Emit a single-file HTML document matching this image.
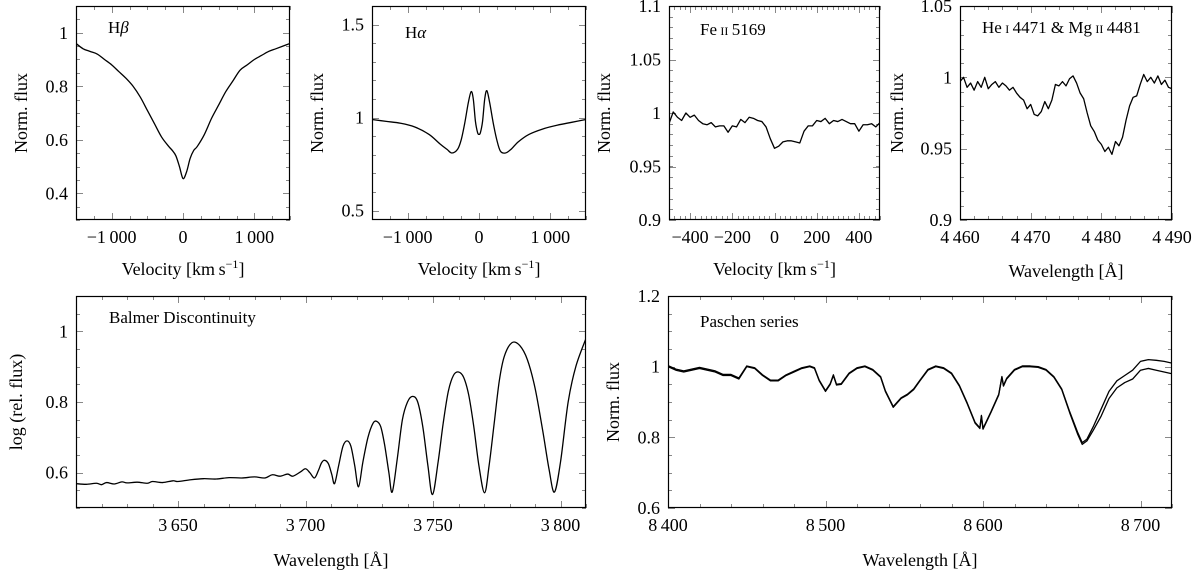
<!DOCTYPE html>
<html><head><meta charset="utf-8">
<style>
html,body{margin:0;padding:0;background:#fff;}
svg{display:block;font-family:"Liberation Serif",serif;}
</style></head>
<body>
<svg id="fig" width="1200" height="573" viewBox="0 0 1200 573" xmlns="http://www.w3.org/2000/svg"></svg>
<script>
// ---------- DATA ----------
const hbVel = [-1500,-1400,-1300,-1200,-1100,-1000,-900,-800,-700,-600,-500,-400,-300,-200,-150,-100,-50,0,50,100,150,200,300,400,500,600,700,800,900,1000,1100,1200,1300,1400,1500];
const hbFlux = [0.96,0.94,0.93,0.92,0.90,0.88,0.855,0.83,0.80,0.76,0.71,0.66,0.61,0.575,0.56,0.54,0.50,0.455,0.48,0.53,0.56,0.575,0.62,0.68,0.73,0.78,0.82,0.86,0.88,0.90,0.915,0.93,0.94,0.95,0.96];

const haVel = [-1500,-1300,-1100,-900,-700,-550,-450,-380,-300,-250,-200,-150,-110,-80,-50,-20,0,20,50,80,110,150,200,250,300,370,450,550,700,900,1100,1300,1500];
const haFlux = [0.99,0.98,0.97,0.95,0.91,0.86,0.83,0.81,0.83,0.88,0.97,1.08,1.14,1.10,0.98,0.92,0.91,0.92,0.98,1.10,1.145,1.08,0.97,0.88,0.82,0.81,0.83,0.87,0.91,0.94,0.96,0.975,0.99];

const feVel = [-500,-480,-460,-440,-420,-400,-380,-360,-340,-320,-300,-280,-260,-240,-220,-200,-180,-160,-140,-120,-100,-80,-60,-40,-20,0,20,40,60,80,100,120,140,160,180,200,220,240,260,280,300,320,340,360,380,400,420,440,460,480,500];
const feFlux = [0.99,1.001,0.996,0.993,1.0,0.996,0.998,0.993,0.99,0.989,0.991,0.987,0.988,0.988,0.982,0.988,0.987,0.994,0.991,0.996,0.995,0.993,0.992,0.987,0.976,0.967,0.969,0.973,0.974,0.974,0.973,0.972,0.983,0.988,0.988,0.993,0.992,0.995,0.990,0.993,0.992,0.994,0.992,0.990,0.990,0.983,0.989,0.989,0.990,0.987,0.991];

const heWave = [4460,4460.5,4461,4461.5,4462,4462.5,4463,4463.5,4464,4464.5,4465,4465.5,4466,4466.5,4467,4467.5,4468,4468.5,4469,4469.5,4470,4470.5,4471,4471.5,4472,4472.5,4473,4473.5,4474,4474.5,4475,4475.5,4476,4476.5,4477,4477.5,4478,4478.5,4479,4479.5,4480,4480.5,4481,4481.5,4482,4482.5,4483,4483.5,4484,4484.5,4485,4485.5,4486,4486.5,4487,4487.5,4488,4488.5,4489,4489.5,4490];
const heFlux = [0.997,1.0,0.993,0.996,0.991,0.997,0.993,1.0,0.992,0.995,0.997,0.993,0.996,0.994,0.991,0.993,0.989,0.986,0.984,0.978,0.981,0.974,0.973,0.976,0.983,0.978,0.984,0.995,0.994,0.997,0.994,0.999,1.001,0.996,0.989,0.985,0.975,0.966,0.962,0.956,0.953,0.948,0.951,0.946,0.955,0.952,0.958,0.970,0.980,0.986,0.987,0.995,1.002,0.997,1.0,0.996,1.001,0.995,0.998,0.993,0.992];

const bdWave = [3610,3614,3618,3620,3622,3625,3628,3630,3634,3638,3640,3644,3648,3650,3655,3660,3665,3670,3675,3680,3684,3687,3690,3693,3695,3698,3700,3701.7,3703.5,3705,3706.3,3707.5,3709,3710.3,3711.4,3713,3714.7,3716.3,3717.8,3719.3,3720.8,3722.5,3724.5,3726.5,3728,3729.5,3731,3732.7,3734,3736,3738,3740,3742,3744,3746,3748,3749.8,3752,3754,3756,3758,3760,3762,3764,3766,3768,3770.2,3772,3774,3776,3778,3781,3784,3787,3790,3793,3795.5,3797.6,3800,3803,3806,3810];
const bdFlux = [0.569,0.567,0.570,0.566,0.572,0.568,0.574,0.571,0.573,0.570,0.575,0.572,0.577,0.575,0.580,0.583,0.582,0.586,0.585,0.588,0.585,0.594,0.590,0.596,0.590,0.602,0.611,0.600,0.585,0.605,0.628,0.635,0.625,0.595,0.569,0.62,0.675,0.69,0.675,0.62,0.56,0.63,0.70,0.74,0.745,0.73,0.68,0.60,0.545,0.64,0.75,0.80,0.816,0.80,0.73,0.62,0.538,0.63,0.74,0.83,0.875,0.885,0.87,0.82,0.73,0.62,0.543,0.62,0.74,0.86,0.93,0.968,0.96,0.92,0.84,0.72,0.61,0.545,0.63,0.80,0.90,0.98];

const paWave = [8400,8405,8410,8415,8420,8425,8430,8435,8440,8445,8450,8455,8460,8465,8470,8475,8480,8485,8490,8493,8496,8500,8503,8505,8507,8510,8515,8520,8525,8530,8535,8538,8543,8548,8552,8556,8560,8565,8570,8575,8580,8585,8590,8595,8598,8599,8600,8605,8610,8612,8613,8615,8620,8625,8630,8635,8640,8645,8650,8655,8660,8663,8666,8670,8675,8680,8685,8690,8695,8700,8705,8710,8715,8720];
const paFluxA = [1.0,0.99,0.985,0.99,0.995,0.99,0.985,0.975,0.975,0.965,1.0,0.995,0.975,0.96,0.96,0.975,0.985,0.995,1.0,0.995,0.96,0.93,0.95,0.975,0.948,0.95,0.98,0.995,1.0,0.99,0.97,0.93,0.885,0.91,0.92,0.935,0.96,0.99,1.0,0.995,0.98,0.945,0.895,0.84,0.825,0.86,0.823,0.87,0.92,0.97,0.945,0.965,0.99,1.0,1.0,0.998,0.99,0.97,0.935,0.87,0.81,0.78,0.79,0.82,0.86,0.91,0.94,0.955,0.965,0.99,0.995,0.99,0.985,0.98];
const paFluxB = [1.003,0.993,0.988,0.993,0.998,0.993,0.988,0.978,0.978,0.968,1.002,0.997,0.977,0.962,0.962,0.977,0.987,0.997,1.002,0.997,0.962,0.932,0.952,0.977,0.95,0.952,0.982,0.997,1.002,0.992,0.972,0.932,0.887,0.912,0.922,0.937,0.962,0.992,1.002,0.997,0.982,0.947,0.897,0.842,0.827,0.862,0.825,0.872,0.922,0.972,0.947,0.967,0.992,1.002,1.002,1.0,0.992,0.972,0.937,0.873,0.815,0.785,0.795,0.83,0.88,0.93,0.96,0.975,0.99,1.015,1.02,1.018,1.015,1.01];

const tkVel1500 = [-1000,0,1000];
const tkHbY = [0.4,0.6,0.8,1];
const tkHaY = [0.5,1,1.5];
const tkFeX = [-400,-200,0,200,400];
const tkFeY = [0.9,0.95,1,1.05,1.1];
const tkHeX = [4460,4470,4480,4490];
const tkHeY = [0.9,0.95,1,1.05];
const tkBdX = [3650,3700,3750,3800];
const tkBdY = [0.6,0.8,1];
const tkPaX = [8400,8500,8600,8700];
const tkPaY = [0.6,0.8,1,1.2];

// ---------- RENDER ----------
const NS = "http://www.w3.org/2000/svg";
const svg = document.getElementById("fig");
function el(tag, attrs, parent){
  const e = document.createElementNS(NS, tag);
  for (const k in attrs) e.setAttribute(k, attrs[k]);
  (parent||svg).appendChild(e);
  return e;
}
function fmt(v, dec){
  let s = Math.abs(v).toFixed(dec);
  let [ip, fp] = s.split(".");
  if (ip.length >= 4) ip = ip.slice(0, ip.length-3) + "\u2009" + ip.slice(ip.length-3);
  s = fp ? ip + "." + fp : ip;
  return (v < 0 ? "\u2212" : "") + s;
}
function lbl(v){
  let d = 0; const s = String(v); if (s.includes(".")) d = s.split(".")[1].length;
  return fmt(v, d);
}
function smoothPath(pts){
  let d = "M" + pts[0][0].toFixed(2) + "," + pts[0][1].toFixed(2);
  for (let i = 0; i < pts.length-1; i++){
    const p0 = pts[Math.max(0,i-1)], p1 = pts[i], p2 = pts[i+1], p3 = pts[Math.min(pts.length-1,i+2)];
    const c1x = p1[0] + (p2[0]-p0[0])/6, c1y = p1[1] + (p2[1]-p0[1])/6;
    const c2x = p2[0] - (p3[0]-p1[0])/6, c2y = p2[1] - (p3[1]-p1[1])/6;
    d += "C" + [c1x,c1y,c2x,c2y,p2[0],p2[1]].map(n=>n.toFixed(2)).join(",");
  }
  return d;
}

function panel(p){
  const g = el("g", {});
  
  
  const sx = v => p.l + (v - p.x0)/(p.x1 - p.x0)*(p.r - p.l);
  const sy = v => p.b - (v - p.y0)/(p.y1 - p.y0)*(p.b - p.t);
  const tg = el("g", {stroke:"#888","stroke-width":1}, g);
  
  
  for (let v = Math.ceil(p.x0/p.xm - 1e-9)*p.xm; v <= p.x1 + 1e-9; v += p.xm){
    const x = Math.round(sx(v)) + 0.5;
    el("line",{x1:x,x2:x,y1:p.b,y2:p.b-4},tg); el("line",{x1:x,x2:x,y1:p.t,y2:p.t+4},tg);
  }
  for (let v = Math.ceil(p.y0/p.ym - 1e-9)*p.ym; v <= p.y1 + 1e-9; v += p.ym){
    const y = Math.round(sy(v)) + 0.5;
    el("line",{x1:p.l,x2:p.l+4,y1:y,y2:y},tg); el("line",{x1:p.r,x2:p.r-4,y1:y,y2:y},tg);
  }
  p.xt.forEach(v=>{
    const x = Math.round(sx(v)) + 0.5;
    el("line",{x1:x,x2:x,y1:p.b,y2:p.b-7},tg); el("line",{x1:x,x2:x,y1:p.t,y2:p.t+7},tg);
    const t = el("text",{x:sx(v),y:p.b+23,"text-anchor":"middle","font-size":18,fill:"#000",stroke:"none"},g);
    
    
    t.textContent = lbl(v);
  });
  p.yt.forEach(v=>{
    const y = Math.round(sy(v)) + 0.5;
    el("line",{x1:p.l,x2:p.l+7,y1:y,y2:y},tg); el("line",{x1:p.r,x2:p.r-7,y1:y,y2:y},tg);
    const t = el("text",{x:p.l-8,y:sy(v)+6,"text-anchor":"end","font-size":18,fill:"#000",stroke:"none"},g);
    
    
    t.textContent = lbl(v);
  });
  const cp = el("clipPath",{id:"c_"+p.name},g);
  el("rect",{x:p.l,y:p.t,width:p.r-p.l,height:p.b-p.t},cp);
  p.series.forEach((s,i)=>{
    const pts = s[0].map((xv,k)=>[sx(xv), sy(s[1][k])]);
    let d;
    if (p.smooth) d = smoothPath(pts);
    else d = pts.map((q,k)=>(k?"L":"M")+q[0].toFixed(2)+","+q[1].toFixed(2)).join("");
    const path = el("path",{d:d,fill:"none",stroke:"#000","stroke-width":1.3,"stroke-linejoin":"round","clip-path":"url(#c_"+p.name+")"},g);
    
    
  });
  const fr = el("rect",{x:p.l+0.5,y:p.t+0.5,width:p.r-p.l-1,height:p.b-p.t-1,fill:"none",stroke:"#000","stroke-width":1.2},g);
  
  
  const xt = el("text",{x:(p.l+p.r)/2,y:p.xty,"text-anchor":"middle","font-size":18},g);
  
  
  xt.innerHTML = p.xtitle;
  const yt = el("text",{x:0,y:0,"text-anchor":"middle","font-size":18,transform:`translate(${p.ytx},${(p.t+p.b)/2}) rotate(-90)`},g);
  
  
  yt.textContent = p.ytitle;
  const pl = el("text",{x:p.lx,y:p.ly,"font-size":17},g);
  
  
  pl.innerHTML = p.label;
}

const VEL = 'Velocity [km\u2009s<tspan dy="-7" font-size="12">\u22121</tspan><tspan dy="7">]</tspan>';
const WL = 'Wavelength [\u00C5]';
const SC = s => '<tspan font-size="12">' + s + '</tspan>';

panel({name:"hbeta-panel",smooth:true,l:76,r:290,t:6,b:220,x0:-1500,x1:1500,y0:0.3,y1:1.1,xm:250,ym:0.05,xt:tkVel1500,yt:tkHbY,
  series:[[hbVel,hbFlux]],xtitle:VEL,xty:275,ytitle:"Norm. flux",ytx:27,label:'H<tspan font-style="italic">\u03B2</tspan>',lx:108,ly:33});
panel({name:"halpha-panel",smooth:true,l:372,r:586,t:6,b:220,x0:-1500,x1:1500,y0:0.45,y1:1.6,xm:250,ym:0.1,xt:tkVel1500,yt:tkHaY,
  series:[[haVel,haFlux]],xtitle:VEL,xty:275,ytitle:"Norm. flux",ytx:323,label:'H<tspan font-style="italic">\u03B1</tspan>',lx:405,ly:38});
panel({name:"feii-panel",l:669,r:880,t:6,b:220,x0:-500,x1:500,y0:0.9,y1:1.1,xm:25,ym:0.01,xt:tkFeX,yt:tkFeY,
  series:[[feVel,feFlux]],xtitle:VEL,xty:275,ytitle:"Norm. flux",ytx:610,label:'Fe\u2009'+SC('II')+'\u20095169',lx:700,ly:35});
panel({name:"hei-mgii-panel",l:960,r:1172,t:6,b:220,x0:4460,x1:4490,y0:0.9,y1:1.05,xm:2,ym:0.01,xt:tkHeX,yt:tkHeY,
  series:[[heWave,heFlux]],xtitle:WL,xty:277,ytitle:"Norm. flux",ytx:903,label:'He\u2009'+SC('I')+'\u20094471 &amp; Mg\u2009'+SC('II')+'\u20094481',lx:982,ly:33});
panel({name:"balmer-panel",smooth:true,l:76,r:586,t:296,b:508,x0:3610,x1:3810,y0:0.5,y1:1.1,xm:10,ym:0.05,xt:tkBdX,yt:tkBdY,
  series:[[bdWave,bdFlux]],xtitle:WL,xty:566,ytitle:"log (rel. flux)",ytx:22,label:'Balmer Discontinuity',lx:109,ly:323});
panel({name:"paschen-panel",l:668,r:1172,t:296,b:508,x0:8400,x1:8720,y0:0.6,y1:1.2,xm:20,ym:0.05,xt:tkPaX,yt:tkPaY,
  series:[[paWave,paFluxA],[paWave,paFluxB]],xtitle:WL,xty:566,ytitle:"Norm. flux",ytx:619,label:'Paschen series',lx:700,ly:327});
</script>
</body></html>
